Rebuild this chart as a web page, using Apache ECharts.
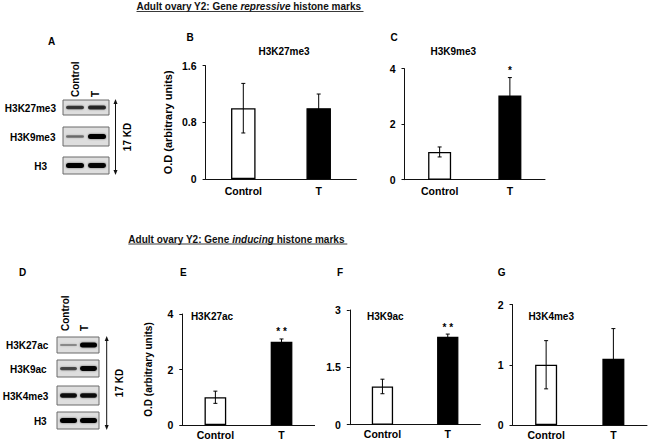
<!DOCTYPE html>
<html><head><meta charset="utf-8">
<script src="https://cdn.jsdelivr.net/npm/echarts@6/dist/echarts.min.js"></script>
<style>html,body{margin:0;padding:0;background:#fff}#c{width:650px;height:441px}</style>
</head><body><div id="c"></div>
<script>
// ---------------- data ----------------
var categories = ['Control', 'T'];

var meansB = [1.0, 1.0];   var errB = [0.35, 0.2];  var sigB = ['', ''];
var meansC = [1.0, 3.03];  var errC = [0.18, 0.65]; var sigC = ['', '*'];
var meansE = [1.0, 3.0];   var errE = [0.22, 0.1];  var sigE = ['', '* *'];
var meansF = [1.0, 2.3];   var errF = [0.19, 0.07]; var sigF = ['', '* *'];
var meansG = [1.0, 1.1];   var errG = [0.4, 0.5];   var sigG = ['', ''];

var yTicksB = [0, 0.8, 1.6];
var yTicksC = [0, 2, 4];
var yTicksE = [0, 2, 4];
var yTicksF = [0, 1.5, 3];
var yTicksG = [0, 1, 2];

var titleTop = ['Adult ovary Y2: Gene ', 'repressive', ' histone marks'];
var titleBottom = ['Adult ovary Y2: Gene ', 'inducing', ' histone marks'];
var yAxisName = 'O.D (arbitrary units)';
var kdLabel = '17 KD';

// western blot panels: row names and relative band density (Control, T)
var blotRowsA = ['H3K27me3', 'H3K9me3', 'H3'];
var blotDensA = [[0.6, 0.7], [0.3, 1.0], [1.0, 0.95]];
var blotRowsD = ['H3K27ac', 'H3K9ac', 'H3K4me3', 'H3'];
var blotDensD = [[0.15, 1.0], [0.5, 0.95], [0.9, 0.9], [1.0, 1.0]];

// ---------------- layout ----------------
var FONT = '"Liberation Sans", Arial, sans-serif';
var panels = [
  {letter:'B', title:'H3K27me3', means:meansB, errs:errB, sig:sigB, ticks:yTicksB,
   grid:{left:205.6, top:65.7, width:150.8, height:113.3}, barWidth:24.5,
   titlePos:[284, 51.7], letterPos:[190, 37.7], yName:true, nameGap:32, nameSize:11, labelMargin:6},
  {letter:'C', title:'H3K9me3', means:meansC, errs:errC, sig:sigC, ticks:yTicksC,
   grid:{left:404.5, top:68.7, width:140.5, height:111}, barWidth:23,
   titlePos:[453.3, 51.7], letterPos:[394, 37.7], yName:false, labelMargin:6},
  {letter:'E', title:'H3K27ac', means:meansE, errs:errE, sig:sigE, ticks:yTicksE,
   grid:{left:182.3, top:314, width:132.3, height:111}, barWidth:21.7,
   titlePos:[212, 316], letterPos:[183.3, 272.3], yName:true, nameGap:29, nameSize:10, labelMargin:4},
  {letter:'F', title:'H3K9ac', means:meansF, errs:errF, sig:sigF, ticks:yTicksF,
   grid:{left:349.8, top:310, width:130.6, height:114.7}, barWidth:21.3,
   titlePos:[385.3, 316], letterPos:[340, 272.3], yName:false, labelMargin:4},
  {letter:'G', title:'H3K4me3', means:meansG, errs:errG, sig:sigG, ticks:yTicksG,
   grid:{left:512.5, top:304.5, width:134.5, height:120.5}, barWidth:22,
   titlePos:[551.2, 316], letterPos:[501.7, 272.3], yName:false, labelMargin:4}
];

var grids = [], xAxes = [], yAxes = [], series = [], graphics = [];
var axisColor = '#111';

panels.forEach(function (p, i) {
  grids.push({left:p.grid.left, top:p.grid.top, width:p.grid.width, height:p.grid.height, containLabel:false});
  xAxes.push({
    type:'category', gridIndex:i, data:categories,
    axisTick:{show:false},
    axisLine:{show:true, lineStyle:{color:axisColor, width:1}},
    axisLabel:{color:'#000', fontWeight:'bold', fontSize:10.5, fontFamily:FONT, margin:p.labelMargin}
  });
  var t = p.ticks;
  yAxes.push({
    type:'value', gridIndex:i, min:t[0], max:t[t.length-1], interval:t[1]-t[0],
    name: p.yName ? yAxisName : '', nameLocation:'middle', nameRotate:90, nameGap:p.nameGap || 0,
    nameTextStyle:{color:'#000', fontWeight:'bold', fontSize:p.nameSize || 10, fontFamily:FONT},
    splitLine:{show:false},
    axisLine:{show:true, lineStyle:{color:axisColor, width:1}},
    axisTick:{show:true, length:3, lineStyle:{color:axisColor, width:1}},
    axisLabel:{color:'#000', fontWeight:'bold', fontSize:10.5, fontFamily:FONT, margin:9}
  });
  series.push({
    type:'bar', xAxisIndex:i, yAxisIndex:i, barWidth:p.barWidth, silent:true,
    data:p.means.map(function (v, j) {
      return {value:v, itemStyle:{color: j === 0 ? '#fff' : '#000', borderColor:'#000', borderWidth:1.3}};
    })
  });
  (function (sig) {
    series.push({
      type:'custom', xAxisIndex:i, yAxisIndex:i, silent:true, clip:false, z:5,
      data:p.means.map(function (m, j) { return [j, m, p.errs[j]]; }),
      renderItem:function (params, api) {
        var x = api.value(0), m = api.value(1), e = api.value(2);
        var hi = api.coord([x, m + e]), lo = api.coord([x, m - e]);
        var c = 2, st = {stroke:'#000', lineWidth:1};
        var ch = [
          {type:'line', shape:{x1:hi[0], y1:hi[1], x2:lo[0], y2:lo[1]}, style:st},
          {type:'line', shape:{x1:hi[0]-c, y1:hi[1], x2:hi[0]+c, y2:hi[1]}, style:st},
          {type:'line', shape:{x1:lo[0]-c, y1:lo[1], x2:lo[0]+c, y2:lo[1]}, style:st}
        ];
        var s = sig[params.dataIndex];
        if (s) {
          ch.push({type:'text', x:hi[0], y:hi[1] - 2,
            style:{text:s, fill:'#000', font:'bold 10px ' + FONT, align:'center', verticalAlign:'bottom'}});
        }
        return {type:'group', children:ch};
      }
    });
  })(p.sig);
  graphics.push(txt(p.title, p.titlePos[0], p.titlePos[1], 'bold 10px ' + FONT, 'center'));
  graphics.push(txt(p.letter, p.letterPos[0], p.letterPos[1], 'bold 10px ' + FONT, 'center'));
});

function txt(s, x, y, font, align, rot) {
  return {type:'text', x:x, y:y, rotation:rot || 0, silent:true,
    style:{text:s, x:0, y:0, fill:'#000', font:font, align:align || 'center', verticalAlign:'middle',
           textAlign:align || 'center', textVerticalAlign:'middle'}};
}

// figure headers (underlined, italic word)
function header(parts, x, y, x2) {
  graphics.push({type:'text', x:x, y:y, silent:true, style:{
    text:'{n|' + parts[0] + '}{i|' + parts[1] + '}{n|' + parts[2] + '}',
    x:0, y:0, align:'left', verticalAlign:'middle',
    rich:{
      n:{fontWeight:'bold', fontSize:10, fontFamily:FONT, fill:'#111', color:'#111'},
      i:{fontWeight:'bold', fontStyle:'italic', fontSize:10, fontFamily:FONT, fill:'#111', color:'#111'}
    }
  }});
  graphics.push({type:'line', silent:true, shape:{x1:x, y1:y + 5, x2:x2, y2:y + 5}, style:{stroke:'#222', lineWidth:0.9}});
}
header(titleTop, 136.5, 6.5, 363.5);
header(titleBottom, 128.3, 239, 347.3);

// western blots
function blot(letter, letterPos, rows, dens, boxX, rowsY, lanes, laneLabelX, laneLabelY, labelRight, arrowX, kdX) {
  graphics.push(txt(letter, letterPos[0], letterPos[1], 'bold 10px ' + FONT, 'center'));
  rows.forEach(function (name, r) {
    var y0 = rowsY[r][0], y1 = rowsY[r][1], cy = (y0 + y1) / 2;
    graphics.push({type:'rect', silent:true, shape:{x:boxX[0], y:y0, width:boxX[1]-boxX[0], height:y1-y0},
      style:{fill:'#dedede', stroke:'#6a6a6a', lineWidth:1}});
    lanes.forEach(function (ln, k) {
      var d = dens[r][k];
      var h = 1.5 + 3.5 * d;
      graphics.push({type:'rect', silent:true,
        shape:{x:ln[0], y:cy - h/2, width:ln[1]-ln[0], height:h, r:h/2},
        style:{fill:'#000', opacity:0.2 + 0.8 * d, shadowBlur:2, shadowColor:'rgba(0,0,0,0.5)'}});
    });
    graphics.push(txt(name, labelRight[r], cy + 0.5, 'bold 10px ' + FONT, 'right'));
  });
  graphics.push(txt('Control', laneLabelX[0], laneLabelY, 'bold 10px ' + FONT, 'left', Math.PI/2));
  graphics.push(txt('T', laneLabelX[1], laneLabelY, 'bold 10px ' + FONT, 'left', Math.PI/2));
  var top = rowsY[0][0], bot = rowsY[rowsY.length-1][1];
  graphics.push({type:'line', silent:true, shape:{x1:arrowX, y1:top + 2, x2:arrowX, y2:bot - 2}, style:{stroke:'#111', lineWidth:1}});
  graphics.push({type:'polygon', silent:true, shape:{points:[[arrowX-2, top+4],[arrowX+2, top+4],[arrowX, top-1]]}, style:{fill:'#111'}});
  graphics.push({type:'polygon', silent:true, shape:{points:[[arrowX-2, bot-4],[arrowX+2, bot-4],[arrowX, bot+1]]}, style:{fill:'#111'}});
  graphics.push(txt(kdLabel, kdX, (top + bot) / 2, 'bold 10px ' + FONT, 'center', Math.PI/2));
}
blot('A', [51.7, 41], blotRowsA, blotDensA, [63, 109], [[100, 115], [127, 146], [157, 174]],
     [[66, 84], [88, 106]], [75, 95], 97, [56, 55.5, 47], 115.5, 127.7);
blot('D', [22.7, 272.3], blotRowsD, blotDensD, [57, 99], [[337, 353], [360, 377], [386, 405], [412, 429]],
     [[60, 77], [80, 97]], [65, 84], 331, [48.3, 46.7, 48.3, 46.7], 106.7, 119);

var chart = echarts.init(document.getElementById('c'), null, {renderer:'svg'});
chart.setOption({
  animation:false,
  backgroundColor:'#fff',
  textStyle:{fontFamily:FONT},
  grid:grids, xAxis:xAxes, yAxis:yAxes, series:series, graphic:graphics
});
</script>
</body></html>
